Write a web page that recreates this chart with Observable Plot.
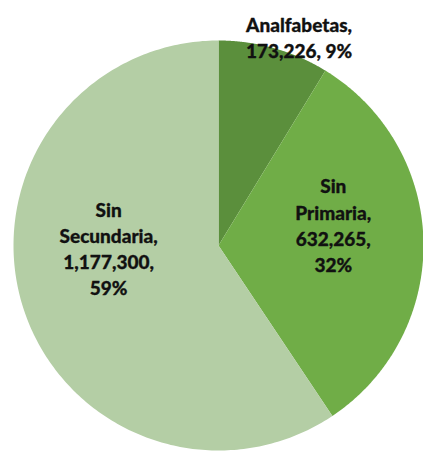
<!DOCTYPE html>
<html><head><meta charset="utf-8">
<script src="https://cdn.jsdelivr.net/npm/d3@7"></script>
<script src="https://cdn.jsdelivr.net/npm/@observablehq/plot@0.6"></script>
<style>body{margin:0;background:#fff}</style>
</head><body><div id="chart"></div>
<script>
const categories = ["Analfabetas", "Sin Primaria", "Sin Secundaria"];
const values = [173226, 632265, 1177300];
const colors = ["#5b8f3c", "#70ad47", "#b4cea5"];

const W = 423, H = 454, R = 205, CX = 218, CY = 245;
const total = d3.sum(values);
const arcs = d3.pie().sort(null).value(d => d.value)(categories.map((name, i) => ({name, value: values[i]})));

const pts = [];
for (const a of arcs) {
  pts.push({name: a.data.name, x: 0, y: 0});
  const n = 240;
  for (let k = 0; k <= n; k++) {
    const t = a.startAngle + (a.endAngle - a.startAngle) * k / n;
    pts.push({name: a.data.name, x: Math.sin(t), y: Math.cos(t)});
  }
}
const fmt = d3.format(",");
const labels = arcs.map(a => {
  const name = a.data.name, mid = (a.startAngle + a.endAngle) / 2;
  const pct = Math.round(a.data.value / total * 100) + "%";
  const outside = name === "Analfabetas";
  const text = outside
    ? `${name},\n${fmt(a.data.value)}, ${pct}`
    : `${name.split(" ").join("\n")},\n${fmt(a.data.value)},\n${pct}`;
  const k = outside ? 1.0 : 0.56;
  return {name, text, x: k * Math.sin(mid), y: k * Math.cos(mid)};
});
const nudge = {"Analfabetas": [25, -12], "Sin Primaria": [0, -19], "Sin Secundaria": [0, -31]};

const plot = Plot.plot({
  width: W, height: H, margin: 0,
  x: {domain: [-CX / R, (W - CX) / R], axis: null},
  y: {domain: [-(H - CY) / R, CY / R], axis: null},
  color: {domain: categories, range: colors},
  style: {fontFamily: "Lato, sans-serif"},
  marks: [
    Plot.line(pts, {x: "x", y: "y", z: "name", fill: "name", stroke: null, curve: "linear-closed"}),
    ...labels.map(l => Plot.text([l], {
      x: "x", y: "y", text: "text", dx: nudge[l.name][0], dy: nudge[l.name][1],
      fontSize: 19, fontWeight: 900, fill: "#111", stroke: "#111", strokeWidth: 0.3,
      lineHeight: 1.37, lineAnchor: "middle"
    }))
  ]
});
document.getElementById("chart").appendChild(plot);
</script></body></html>
